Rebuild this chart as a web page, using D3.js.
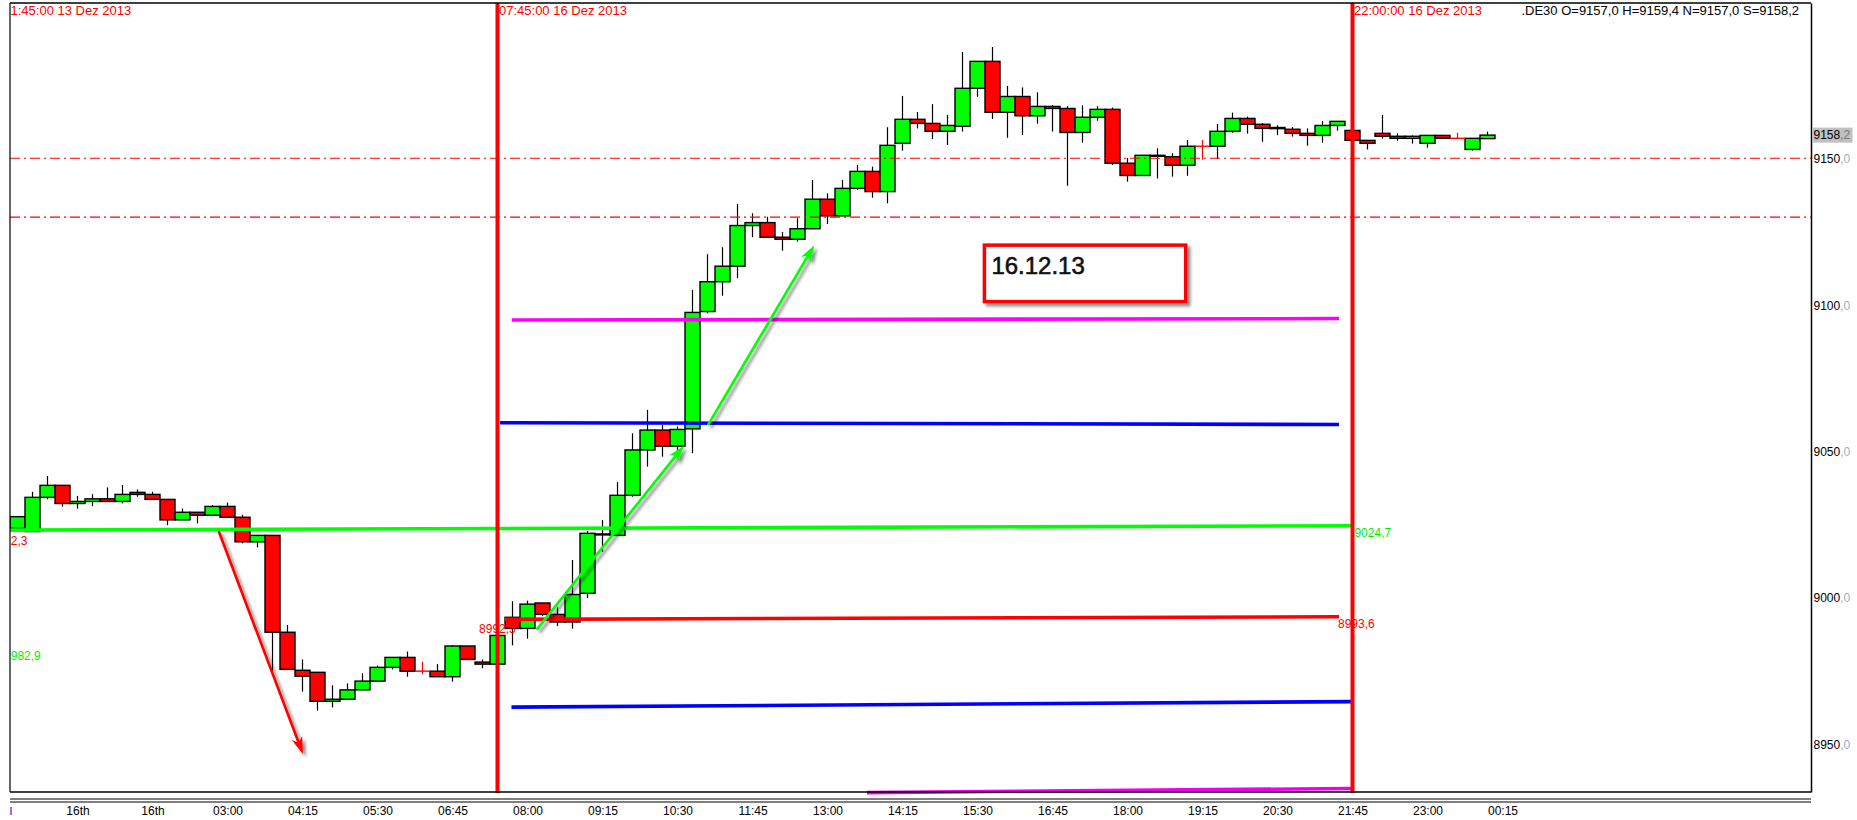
<!DOCTYPE html>
<html>
<head>
<meta charset="utf-8">
<script src="https://cdn.jsdelivr.net/npm/d3@7"></script>
<style>
  body { margin: 0; background: #fff; }
  text { font-family: "Liberation Sans", Arial, sans-serif; }
</style>
</head>
<body>
<svg id="chart" width="1857" height="820"></svg>
<script>
// 15 minute bars of .DE30, 13./16. Dez 2013 (bar index 0 = first bar on the left)
var opens = [9023.8, 9022.7, 9034.4, 9038.5, 9032.3, 9033.0, 9033.9, 9033.0, 9036.1, 9035.4,
  9033.7, 9026.7, 9029.3, 9028.3, 9031.3, 9027.6, 9019.2, 9021.4, 8988.3, 8975.3,
  8974.6, 8964.7, 8965.4, 8968.6, 8971.6, 8976.3, 8979.7, 8975.0, 8975.0, 8973.1,
  8983.6, 8978.1, 8977.4, 8993.4, 8989.6, 8998.3, 8994.4, 8991.8, 9001.6, 9021.6,
  9021.4, 9035.1, 9050.6, 9057.4, 9051.9, 9057.8, 9097.9, 9108.1, 9113.4, 9127.3,
  9128.3, 9123.3, 9122.6, 9126.2, 9136.3, 9130.6, 9140.0, 9145.8, 9138.9, 9155.4,
  9163.6, 9162.2, 9159.5, 9161.2, 9174.2, 9183.4, 9166.0, 9171.4, 9164.8, 9168.0,
  9167.3, 9159.1, 9164.3, 9167.0, 9148.6, 9144.4, 9151.0, 9150.8, 9147.9, 9154.4,
  9154.4, 9159.5, 9163.9, 9161.9, 9160.4, 9160.2, 9158.8, 9158.1, 9161.5, 9159.8,
  9156.4, 9158.8, 9157.8, 9157.1, 9155.4, 9158.1, 9157.1, 9153.3, 9157.0];
var highs = [9027.8, 9036.3, 9041.7, 9038.5, 9034.9, 9035.5, 9037.8, 9038.6, 9037.1, 9036.3,
  9033.7, 9030.6, 9029.3, 9031.8, 9032.6, 9028.4, 9021.4, 9021.4, 8990.8, 8979.0,
  8974.6, 8970.2, 8970.8, 8974.3, 8976.9, 8979.7, 8981.7, 8978.2, 8977.4, 8983.9,
  8983.6, 8979.0, 8987.2, 8998.9, 8999.1, 8998.3, 8996.8, 9013.0, 9022.9, 9026.7,
  9039.6, 9056.3, 9064.3, 9059.1, 9058.6, 9105.3, 9117.5, 9119.9, 9134.7, 9131.5,
  9130.3, 9125.1, 9129.8, 9142.9, 9138.3, 9142.9, 9148.0, 9147.4, 9160.9, 9171.6,
  9166.1, 9168.8, 9165.1, 9186.6, 9183.4, 9188.3, 9175.0, 9174.5, 9172.8, 9168.5,
  9168.1, 9168.4, 9168.1, 9167.6, 9150.4, 9151.3, 9153.7, 9152.0, 9156.5, 9156.5,
  9162.0, 9165.9, 9164.5, 9162.3, 9161.6, 9161.0, 9160.5, 9163.0, 9162.9, 9159.8,
  9156.4, 9165.1, 9158.8, 9158.1, 9158.1, 9158.1, 9159.0, 9157.1, 9159.4];
var lows = [9023.5, 9022.7, 9033.7, 9031.2, 9030.5, 9031.4, 9033.0, 9032.3, 9034.6, 9033.7,
  9024.9, 9026.7, 9025.5, 9028.3, 9027.6, 9018.7, 9017.3, 8974.8, 8975.6, 8968.0,
  8961.5, 8962.6, 8965.4, 8968.6, 8971.6, 8975.6, 8973.1, 8974.0, 8973.1, 8971.4,
  8979.0, 8976.0, 8977.4, 8983.8, 8986.1, 8993.8, 8990.4, 8989.5, 9000.0, 9015.8,
  9021.4, 9034.6, 9044.9, 9048.3, 9050.6, 9049.5, 9097.3, 9103.3, 9109.3, 9123.3,
  9123.3, 9118.7, 9121.8, 9126.2, 9127.8, 9130.6, 9139.5, 9136.8, 9134.9, 9152.9,
  9160.5, 9156.9, 9154.8, 9159.4, 9171.3, 9163.7, 9157.3, 9158.2, 9162.1, 9159.4,
  9140.9, 9155.6, 9163.1, 9148.0, 9142.3, 9144.4, 9143.4, 9144.0, 9144.3, 9149.8,
  9150.0, 9159.0, 9158.7, 9155.9, 9158.2, 9157.7, 9154.6, 9155.6, 9159.7, 9156.4,
  9153.3, 9157.0, 9156.3, 9155.3, 9153.9, 9157.1, 9157.1, 9152.9, 9157.0];
var closes = [9027.8, 9034.4, 9038.5, 9032.3, 9033.0, 9033.9, 9033.0, 9035.4, 9035.4, 9033.7,
  9026.7, 9029.3, 9028.3, 9031.3, 9027.6, 9019.2, 9021.4, 8988.3, 8975.6, 8973.3,
  8964.7, 8965.4, 8968.6, 8971.6, 8976.3, 8979.7, 8975.0, 8975.0, 8973.1, 8983.6,
  8979.0, 8977.4, 8987.2, 8989.6, 8997.9, 8994.4, 8991.8, 9001.2, 9022.1, 9021.9,
  9035.1, 9050.6, 9057.4, 9051.9, 9057.6, 9097.6, 9108.1, 9113.4, 9127.3, 9128.3,
  9123.3, 9122.6, 9126.2, 9136.3, 9130.6, 9140.0, 9145.8, 9138.9, 9154.7, 9163.6,
  9162.2, 9159.5, 9161.5, 9174.2, 9183.4, 9166.0, 9171.4, 9164.8, 9168.0, 9167.3,
  9159.1, 9164.3, 9167.0, 9148.6, 9144.4, 9151.3, 9151.3, 9147.9, 9154.4, 9154.4,
  9159.5, 9163.9, 9161.9, 9160.5, 9160.8, 9158.8, 9158.1, 9161.5, 9162.9, 9156.4,
  9155.4, 9157.8, 9157.1, 9157.8, 9158.1, 9157.1, 9157.1, 9157.1, 9158.2];

// time axis
var xTickIdx = [4, 9, 14, 19, 24, 29, 34, 39, 44, 49, 54, 59, 64, 69, 74, 79, 84, 89, 94, 99];
var xTickLabels = ["16th", "16th", "03:00", "04:15", "05:30", "06:45", "08:00", "09:15", "10:30", "11:45",
  "13:00", "14:15", "15:30", "16:45", "18:00", "19:15", "20:30", "21:45", "23:00", "00:15"];
var yTicks = [8950, 9000, 9050, 9100, 9150];
var lastPrice = 9158.2;
var header = ".DE30 O=9157,0 H=9159,4 N=9157,0 S=9158,2";

// vertical time markers
var markerIdx = [32, 89];
var markerLabels = ["07:45:00 16 Dez 2013", "22:00:00 16 Dez 2013"];
var offLeftLabel = "1:45:00 13 Dez 2013";

// dash-dot price lines
var dashPrices = [9150.3, 9130.2];

// level lines: start/end bar index, start/end price
var levelStart = [32.95, 32.17, -0.5, 32.5, 32.93, 56.63];
var levelEnd = [88.1, 88.1, 88.93, 88.1, 88.93, 88.93];
var levelFrom = [9095.0, 9059.9, 9023.2, 8992.7, 8962.7, 8933.5];
var levelTo = [9095.5, 9059.3, 9024.7, 8993.6, 8964.6, 8934.9];

// value labels for the levels
var levelLabels = ["9024,7", "8993,6"];
var levelLabelOf = [2, 3];
var sideLabels = ["8992,5", "2,3", "982,9"];
var sideLabelIdx = [30.77, -0.45, -0.45];
var sideLabelPrice = [8989.4, 9019.6, 8980.3];

// drawn arrows
var arrowFromIdx = [13.41, 34.61, 46.03];
var arrowFromPrice = [9022.9, 8989.2, 9059.1];
var arrowToIdx = [19.03, 44.43, 53.12];
var arrowToPrice = [8946.7, 9052.05, 9120.6];

// note box
var noteText = "16.12.13";
var noteIdx = [64.46, 77.88];
var notePrice = [9120.6, 9101.3];

var svg = d3.select("#chart");
var plotL = 10, plotR = 1811, plotT = 3, plotB = 792;
var barW = 15;

var x = d3.scaleLinear()
    .domain([-0.5, -0.5 + (plotR - plotL) / barW])
    .range([plotL, plotR]);
var y = d3.scaleLinear()
    .domain([8933.7, 9203.35])
    .range([plotB, plotT]);

var bars = opens.map(function (o, i) {
    return { i: i, o: o, h: highs[i], l: lows[i], c: closes[i] };
});

var defs = svg.append("defs");
defs.append("clipPath").attr("id", "plotClip")
    .append("rect").attr("x", plotL).attr("y", plotT)
    .attr("width", plotR - plotL).attr("height", plotB - plotT);
var sh = defs.append("filter").attr("id", "shadow")
    .attr("x", "-20%").attr("y", "-20%").attr("width", "150%").attr("height", "150%");
sh.append("feDropShadow").attr("dx", 3).attr("dy", 3).attr("stdDeviation", 1.6)
    .attr("flood-color", "#000").attr("flood-opacity", 0.45);

var plot = svg.append("g").attr("clip-path", "url(#plotClip)");

// labels that sit under the marks
svg.selectAll(".sideLabel")
    .data(sideLabels)
    .enter().append("text")
    .attr("x", function (d, i) { return x(sideLabelIdx[i]); })
    .attr("y", function (d, i) { return y(sideLabelPrice[i]); })
    .attr("dy", "0.35em")
    .attr("font-size", 12)
    .attr("fill", function (d, i) { return i == 2 ? "#00f000" : "#ff0000"; })
    .text(function (d) { return d; });

// candles: wicks
plot.selectAll(".wick")
    .data(bars)
    .enter().append("line")
    .attr("x1", function (d) { return x(d.i); })
    .attr("x2", function (d) { return x(d.i); })
    .attr("y1", function (d) { return y(d.h); })
    .attr("y2", function (d) { return y(d.l); })
    .attr("stroke", function (d) { return d.o == d.c ? "#ff0000" : "#000"; })
    .attr("stroke-width", 1.2);

// candles: bodies
plot.selectAll(".body")
    .data(bars.filter(function (d) { return d.o != d.c; }))
    .enter().append("rect")
    .attr("x", function (d) { return x(d.i) - barW / 2; })
    .attr("width", barW)
    .attr("y", function (d) { return y(Math.max(d.o, d.c)); })
    .attr("height", function (d) { return Math.max(1, Math.abs(y(d.o) - y(d.c))); })
    .attr("fill", function (d) { return d.c > d.o ? "#00ff00" : "#ff0000"; })
    .attr("stroke", "#000")
    .attr("stroke-width", 1.4);

// candles without body
plot.selectAll(".doji")
    .data(bars.filter(function (d) { return d.o == d.c; }))
    .enter().append("line")
    .attr("x1", function (d) { return x(d.i) - barW / 2; })
    .attr("x2", function (d) { return x(d.i) + barW / 2; })
    .attr("y1", function (d) { return y(d.c); })
    .attr("y2", function (d) { return y(d.c); })
    .attr("stroke", "#ff0000")
    .attr("stroke-width", 1.4);

// dash-dot lines
plot.selectAll(".dash")
    .data(dashPrices)
    .enter().append("line")
    .attr("x1", plotL).attr("x2", plotR)
    .attr("y1", function (d) { return y(d); })
    .attr("y2", function (d) { return y(d); })
    .attr("stroke", "#ff0000")
    .attr("stroke-width", 1.2)
    .attr("stroke-dasharray", "10,4,2,4");

// level lines
var levelColors = ["#ff00ff", "#0000ff", "#00ff00", "#ff0000", "#0000ff", "#ee00ee"];
svg.selectAll(".level")
    .data(levelStart)
    .enter().append("line")
    .attr("x1", function (d) { return x(d); })
    .attr("x2", function (d, i) { return x(levelEnd[i]); })
    .attr("y1", function (d, i) { return y(levelFrom[i]); })
    .attr("y2", function (d, i) { return y(levelTo[i]); })
    .attr("stroke", function (d, i) { return levelColors[i]; })
    .attr("stroke-width", 3.6);

svg.selectAll(".levelLabel")
    .data(levelLabels)
    .enter().append("text")
    .attr("x", function (d, i) { var k = levelLabelOf[i]; return x(levelEnd[k]) + (k == 2 ? 3 : -1); })
    .attr("y", function (d, i) { return y(levelTo[levelLabelOf[i]]) + 7; })
    .attr("dy", "0.35em")
    .attr("font-size", 12)
    .attr("fill", function (d, i) { return levelColors[levelLabelOf[i]] == "#00ff00" ? "#00f000" : "#ff0000"; })
    .text(function (d) { return d; });

// arrows
function arrowHead(x0, y0, x1, y1) {
    var dx = x1 - x0, dy = y1 - y0, L = Math.hypot(dx, dy);
    var ux = dx / L, uy = dy / L, px = -uy, py = ux;
    var hl = 17, hw = 5.5, notch = 12;
    var bx = x1 - ux * hl, by = y1 - uy * hl;
    return {
        pts: [[x1, y1], [bx + px * hw, by + py * hw], [x1 - ux * notch, y1 - uy * notch], [bx - px * hw, by - py * hw]],
        nx: x1 - ux * notch, ny: y1 - uy * notch
    };
}
var arrowColors = ["#ff0000", "#00ff00", "#00ff00"];
var arrows = svg.append("g").attr("filter", "url(#shadow)");
arrowFromIdx.forEach(function (d, i) {
    var x0 = x(d), y0 = y(arrowFromPrice[i]), x1 = x(arrowToIdx[i]), y1 = y(arrowToPrice[i]);
    var h = arrowHead(x0, y0, x1, y1);
    arrows.append("line")
        .attr("x1", x0).attr("y1", y0).attr("x2", h.nx).attr("y2", h.ny)
        .attr("stroke", arrowColors[i]).attr("stroke-width", 2.6);
    arrows.append("polygon")
        .attr("points", h.pts.map(function (p) { return p.join(","); }).join(" "))
        .attr("fill", arrowColors[i]);
});

// note box
svg.append("rect")
    .attr("x", x(noteIdx[0])).attr("y", y(notePrice[0]))
    .attr("width", x(noteIdx[1]) - x(noteIdx[0]))
    .attr("height", y(notePrice[1]) - y(notePrice[0]))
    .attr("fill", "#fff")
    .attr("stroke", "#ff0000")
    .attr("stroke-width", 3.5)
    .attr("filter", "url(#shadow)");
svg.append("text")
    .attr("x", x(noteIdx[0]) + 7)
    .attr("y", y(notePrice[0]) + 29)
    .attr("font-size", 24)
    .attr("fill", "#111")
    .attr("stroke", "#111")
    .attr("stroke-width", 0.6)
    .text(noteText);

// vertical markers
svg.selectAll(".marker")
    .data(markerIdx)
    .enter().append("line")
    .attr("x1", function (d) { return x(d); })
    .attr("x2", function (d) { return x(d); })
    .attr("y1", plotT).attr("y2", plotB + 1)
    .attr("stroke", "#ff0000")
    .attr("stroke-width", 4);
svg.selectAll(".markerLabel")
    .data(markerLabels)
    .enter().append("text")
    .attr("x", function (d, i) { return x(markerIdx[i]) + 1.5; })
    .attr("y", 15)
    .attr("font-size", 13)
    .attr("fill", "#ff0000")
    .text(function (d) { return d; });
svg.append("text")
    .attr("x", plotL + 0.5).attr("y", 15)
    .attr("font-size", 13)
    .attr("fill", "#ff0000")
    .text(offLeftLabel);

svg.append("text")
    .attr("x", 1799).attr("y", 15)
    .attr("text-anchor", "end")
    .attr("font-size", 13)
    .attr("fill", "#000")
    .text(header);

// frame
svg.append("line").attr("x1", plotL).attr("x2", plotR).attr("y1", plotT).attr("y2", plotT)
    .attr("stroke", "#000").attr("stroke-width", 1.5);
svg.append("line").attr("x1", plotL).attr("x2", plotL).attr("y1", plotT).attr("y2", plotB)
    .attr("stroke", "#000").attr("stroke-width", 1.2);
svg.append("line").attr("x1", plotL).attr("x2", plotR).attr("y1", plotB).attr("y2", plotB)
    .attr("stroke", "#000").attr("stroke-width", 1.5);
[799, 802].forEach(function (yy) {
    svg.append("line").attr("x1", plotL).attr("x2", plotR).attr("y1", yy).attr("y2", yy)
        .attr("stroke", "#000").attr("stroke-width", 1.2);
});

// y axis
var yAxis = d3.axisRight(y).tickValues(yTicks).tickSize(0).tickSizeOuter(0).tickPadding(2.5);
var ya = svg.append("g")
    .attr("transform", "translate(" + plotR + ",0)")
    .call(yAxis);
ya.attr("font-family", null).attr("font-size", 12);
ya.select(".domain").attr("stroke", "#000").attr("stroke-width", 1.5);
ya.selectAll(".tick text").each(function (d) {
    var t = d3.select(this);
    t.text(null).attr("fill", "#000");
    t.append("tspan").text(d);
    t.append("tspan").attr("fill", "#98b0c8").text(",0");
});

// last price box
var lp = String(lastPrice).split(".");
svg.append("rect")
    .attr("x", plotR + 1.5).attr("y", y(lastPrice) - 7.5)
    .attr("width", 40).attr("height", 15)
    .attr("fill", "#c0c0c0");
var lt = svg.append("text")
    .attr("x", plotR + 2.5).attr("y", y(lastPrice))
    .attr("dy", "0.32em")
    .attr("font-size", 12)
    .attr("fill", "#000");
lt.append("tspan").text(lp[0]);
lt.append("tspan").attr("fill", "#7a7a7a").text("," + lp[1]);

// x axis
var xAxis = d3.axisBottom(x)
    .tickValues(xTickIdx)
    .tickFormat(function (d, i) { return xTickLabels[i]; })
    .tickSize(0).tickSizeOuter(0).tickPadding(14.5);
var xa = svg.append("g")
    .attr("transform", "translate(0," + plotB + ")")
    .call(xAxis);
xa.attr("font-family", null).attr("font-size", 12);
xa.select(".domain").remove();
xa.selectAll(".tick text").attr("fill", "#000");

svg.append("line").attr("x1", 11).attr("x2", 11).attr("y1", 807).attr("y2", 815)
    .attr("stroke", "#8000a0").attr("stroke-width", 1.2);
</script>
</body>
</html>
